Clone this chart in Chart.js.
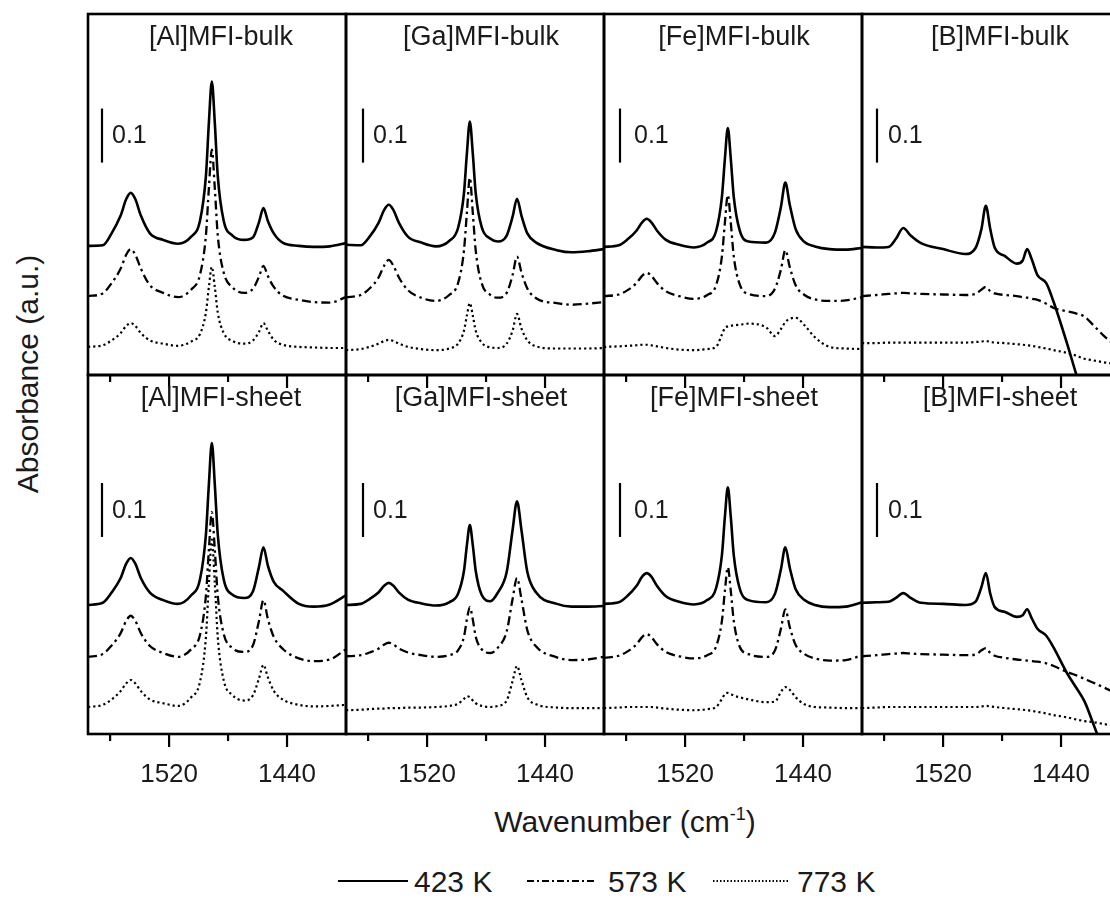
<!DOCTYPE html>
<html>
<head>
<meta charset="utf-8">
<title>Pyridine IR spectra on MFI zeolites</title>
<script src="https://cdn.jsdelivr.net/npm/chart.js@4.4.1/dist/chart.umd.min.js"></script>
<style>
  html, body { margin: 0; padding: 0; background: #fff; }
  body {
    width: 1110px; height: 898px; overflow: hidden; position: relative;
    font-family: "Liberation Sans", Arial, sans-serif; color: #1a1a1a;
  }
  canvas.panel { position: absolute; }
  .label { position: absolute; white-space: nowrap; transform: translate(-50%, -50%); font-size: 30px; }
  #ylabel { left: 28px; top: 374px; transform: translate(-50%, -50%) rotate(-90deg); }
  #xlabel { left: 625px; top: 822px; }
  #xlabel sup { font-size: 18px; line-height: 0; vertical-align: 12px; }
  #legend { position: absolute; left: 0; top: 850px; }
</style>
</head>
<body>
<div id="ylabel" class="label">Absorbance (a.u.)</div>
<div id="xlabel" class="label">Wavenumber (cm<sup>-1</sup>)</div>
<svg id="legend" width="1110" height="48" font-family="Liberation Sans, Arial, sans-serif" font-size="30" fill="#1a1a1a">
  <line x1="338" y1="31" x2="408" y2="31" stroke="#000" stroke-width="2.2"/>
  <text x="414" y="42">423 K</text>
  <line x1="527" y1="31" x2="597" y2="31" stroke="#000" stroke-width="2" stroke-dasharray="7 3 2 3"/>
  <text x="608" y="42">573 K</text>
  <line x1="713" y1="31" x2="788" y2="31" stroke="#000" stroke-width="1.8" stroke-dasharray="1.5 2"/>
  <text x="797" y="42">773 K</text>
</svg>
<script>
// wavenumber grids (cm-1), dense around the 1546 / 1491 / ~1455 bands
const waveShared = [1575, 1565, 1559, 1553, 1549, 1546, 1543, 1539, 1533, 1524,
                    1514, 1505, 1499, 1495, 1493, 1491, 1489, 1487, 1483, 1477];
const bandAl = [1469, 1463, 1459, 1456, 1453, 1449, 1443];
const bandGa = [1472, 1466, 1462, 1459, 1456, 1452, 1446];
const bandFe = [1465, 1459, 1455, 1452, 1449, 1445, 1439];
const waveTail = [1432, 1422, 1411, 1400];
const waveB = [1575, 1565, 1557, 1552, 1547, 1542, 1535, 1520, 1505, 1498,
               1494, 1491, 1488, 1485, 1478, 1470, 1466, 1463, 1460, 1456,
               1450, 1445, 1436, 1430, 1424, 1418, 1410, 1400];

const temps = ['423 K', '573 K', '773 K'];
const tickLabels = [1520, 1440];
const minorTicks = [1560, 1480];

// absorbance, curves offset for clarity
const alBulk423 = [0.239, 0.240, 0.262, 0.294, 0.326, 0.337, 0.326, 0.294, 0.262, 0.250,
                   0.243, 0.256, 0.286, 0.369, 0.467, 0.543, 0.467, 0.369, 0.286, 0.258,
                   0.250, 0.255, 0.283, 0.309, 0.285, 0.262, 0.245, 0.239, 0.237, 0.238, 0.244];
const alBulk573 = [0.146, 0.151, 0.170, 0.196, 0.223, 0.233, 0.223, 0.196, 0.166, 0.152,
                   0.144, 0.158, 0.186, 0.259, 0.346, 0.417, 0.346, 0.259, 0.190, 0.162,
                   0.152, 0.160, 0.182, 0.202, 0.183, 0.163, 0.147, 0.139, 0.135, 0.134, 0.144];
const alBulk773 = [0.052, 0.055, 0.064, 0.077, 0.091, 0.096, 0.091, 0.077, 0.064, 0.058,
                   0.054, 0.062, 0.076, 0.116, 0.163, 0.200, 0.163, 0.116, 0.078, 0.063,
                   0.058, 0.064, 0.080, 0.096, 0.082, 0.065, 0.056, 0.052, 0.051, 0.050, 0.050];

const gaBulk423 = [0.241, 0.240, 0.256, 0.281, 0.306, 0.315, 0.306, 0.281, 0.256, 0.245,
                   0.238, 0.248, 0.272, 0.336, 0.410, 0.469, 0.410, 0.336, 0.274, 0.252,
                   0.247, 0.258, 0.293, 0.326, 0.295, 0.262, 0.245, 0.231, 0.227, 0.229, 0.233];
const gaBulk573 = [0.144, 0.148, 0.160, 0.180, 0.203, 0.213, 0.203, 0.180, 0.157, 0.143,
                   0.137, 0.148, 0.170, 0.230, 0.300, 0.365, 0.300, 0.230, 0.170, 0.148,
                   0.143, 0.152, 0.185, 0.219, 0.190, 0.160, 0.142, 0.133, 0.130, 0.132, 0.135];
const gaBulk773 = [0.046, 0.048, 0.052, 0.058, 0.063, 0.065, 0.063, 0.058, 0.052, 0.048,
                   0.046, 0.049, 0.058, 0.082, 0.110, 0.133, 0.110, 0.082, 0.060, 0.051,
                   0.050, 0.058, 0.082, 0.113, 0.086, 0.064, 0.053, 0.049, 0.049, 0.049, 0.050];

const feBulk423 = [0.237, 0.240, 0.251, 0.267, 0.283, 0.289, 0.283, 0.267, 0.250, 0.241,
                   0.236, 0.245, 0.266, 0.330, 0.400, 0.457, 0.400, 0.330, 0.268, 0.247,
                   0.245, 0.264, 0.311, 0.356, 0.315, 0.270, 0.246, 0.238, 0.233, 0.232, 0.235];
const feBulk573 = [0.146, 0.149, 0.157, 0.170, 0.184, 0.189, 0.184, 0.170, 0.155, 0.146,
                   0.141, 0.148, 0.166, 0.220, 0.282, 0.333, 0.282, 0.220, 0.168, 0.150,
                   0.146, 0.160, 0.195, 0.231, 0.200, 0.166, 0.148, 0.140, 0.137, 0.138, 0.144];
const feBulk773 = [0.052, 0.053, 0.054, 0.055, 0.056, 0.056, 0.055, 0.053, 0.050, 0.047,
                   0.046, 0.048, 0.052, 0.075, 0.087, 0.090, 0.091, 0.092, 0.093, 0.095,
                   0.088, 0.072, 0.085, 0.098, 0.104, 0.106, 0.092, 0.070, 0.052, 0.049, 0.048];

const bBulk423 = [0.237, 0.236, 0.237, 0.252, 0.272, 0.258, 0.244, 0.233, 0.224, 0.235,
                  0.270, 0.313, 0.270, 0.236, 0.220, 0.206, 0.212, 0.233, 0.215, 0.185,
                  0.170, 0.135, 0.059, 0.004, -0.050];
const bBulk573 = [0.146, 0.148, 0.150, 0.151, 0.152, 0.151, 0.150, 0.149, 0.148, 0.150,
                  0.158, 0.163, 0.155, 0.151, 0.148, 0.146, 0.144, 0.143, 0.141, 0.139,
                  0.132, 0.124, 0.118, 0.114, 0.108, 0.092, 0.070, 0.048];
const bBulk773 = [0.059, 0.059, 0.060, 0.060, 0.060, 0.060, 0.060, 0.060, 0.060, 0.061,
                  0.062, 0.063, 0.061, 0.060, 0.059, 0.057, 0.056, 0.055, 0.054, 0.052,
                  0.049, 0.046, 0.041, 0.036, 0.030, 0.027, 0.023, 0.020];

const alSheet423 = [0.239, 0.243, 0.262, 0.288, 0.316, 0.326, 0.316, 0.288, 0.262, 0.248,
                    0.241, 0.257, 0.287, 0.370, 0.463, 0.539, 0.463, 0.370, 0.287, 0.258,
                    0.252, 0.265, 0.310, 0.346, 0.312, 0.282, 0.266, 0.241, 0.236, 0.240, 0.257];
const alSheet573 = [0.143, 0.148, 0.164, 0.186, 0.210, 0.219, 0.210, 0.186, 0.163, 0.150,
                    0.143, 0.157, 0.184, 0.257, 0.342, 0.411, 0.342, 0.257, 0.186, 0.159,
                    0.152, 0.165, 0.210, 0.248, 0.213, 0.180, 0.158, 0.140, 0.135, 0.138, 0.157];
const alSheet773 = [0.050, 0.054, 0.064, 0.079, 0.094, 0.100, 0.094, 0.079, 0.064, 0.057,
                    0.052, 0.068, 0.097, 0.180, 0.280, 0.360, 0.280, 0.180, 0.100, 0.072,
                    0.062, 0.072, 0.103, 0.128, 0.105, 0.080, 0.064, 0.054, 0.051, 0.052, 0.054];

const gaSheet423 = [0.239, 0.241, 0.250, 0.262, 0.275, 0.280, 0.275, 0.262, 0.249, 0.242,
                    0.238, 0.244, 0.260, 0.302, 0.350, 0.387, 0.350, 0.302, 0.258, 0.246,
                    0.262, 0.300, 0.378, 0.431, 0.378, 0.300, 0.262, 0.241, 0.236, 0.236, 0.237];
const gaSheet573 = [0.144, 0.146, 0.151, 0.158, 0.166, 0.169, 0.166, 0.158, 0.151, 0.146,
                    0.143, 0.146, 0.155, 0.180, 0.212, 0.235, 0.212, 0.180, 0.157, 0.150,
                    0.160, 0.190, 0.250, 0.289, 0.250, 0.192, 0.162, 0.142, 0.137, 0.138, 0.143];
const gaSheet773 = [0.044, 0.045, 0.046, 0.047, 0.047, 0.048, 0.048, 0.048, 0.049, 0.049,
                    0.050, 0.052, 0.056, 0.065, 0.070, 0.068, 0.062, 0.057, 0.052, 0.050,
                    0.052, 0.062, 0.098, 0.126, 0.100, 0.068, 0.055, 0.049, 0.048, 0.048, 0.048];

const feSheet423 = [0.241, 0.244, 0.256, 0.274, 0.292, 0.298, 0.292, 0.274, 0.255, 0.245,
                    0.240, 0.248, 0.270, 0.332, 0.402, 0.457, 0.402, 0.332, 0.270, 0.248,
                    0.244, 0.260, 0.305, 0.346, 0.308, 0.268, 0.248, 0.239, 0.235, 0.236, 0.244];
const feSheet573 = [0.141, 0.145, 0.153, 0.166, 0.180, 0.185, 0.180, 0.166, 0.152, 0.144,
                    0.140, 0.146, 0.162, 0.210, 0.265, 0.309, 0.265, 0.210, 0.162, 0.148,
                    0.143, 0.155, 0.195, 0.231, 0.198, 0.165, 0.148, 0.140, 0.136, 0.137, 0.146];
const feSheet773 = [0.048, 0.049, 0.050, 0.050, 0.050, 0.050, 0.050, 0.049, 0.047, 0.045,
                    0.044, 0.046, 0.050, 0.065, 0.074, 0.076, 0.074, 0.071, 0.068, 0.064,
                    0.059, 0.060, 0.078, 0.087, 0.082, 0.068, 0.055, 0.050, 0.049, 0.048, 0.048];

const bSheet423 = [0.243, 0.244, 0.245, 0.252, 0.261, 0.252, 0.243, 0.241, 0.239, 0.245,
                   0.272, 0.298, 0.260, 0.235, 0.226, 0.217, 0.220, 0.231, 0.215, 0.195,
                   0.182, 0.160, 0.113, 0.087, 0.060, 0.018, -0.040];
const bSheet573 = [0.144, 0.146, 0.148, 0.149, 0.150, 0.149, 0.148, 0.147, 0.146, 0.147,
                   0.155, 0.159, 0.150, 0.145, 0.141, 0.138, 0.137, 0.136, 0.135, 0.134,
                   0.131, 0.126, 0.115, 0.109, 0.102, 0.095, 0.085, 0.072];
const bSheet773 = [0.048, 0.049, 0.050, 0.050, 0.050, 0.050, 0.050, 0.050, 0.050, 0.050,
                   0.051, 0.052, 0.051, 0.050, 0.048, 0.046, 0.045, 0.044, 0.043, 0.041,
                   0.038, 0.035, 0.031, 0.027, 0.024, 0.022, 0.018, 0.014];

const waveAl = [...waveShared, ...bandAl, ...waveTail];
const waveGa = [...waveShared, ...bandGa, ...waveTail];
const waveFe = [...waveShared, ...bandFe, ...waveTail];

const panels = [
  { title: '[Al]MFI-bulk',  row: 0, col: 0, wave: waveAl, series: [alBulk423, alBulk573, alBulk773] },
  { title: '[Ga]MFI-bulk',  row: 0, col: 1, wave: waveGa, series: [gaBulk423, gaBulk573, gaBulk773] },
  { title: '[Fe]MFI-bulk',  row: 0, col: 2, wave: waveFe, series: [feBulk423, feBulk573, feBulk773] },
  { title: '[B]MFI-bulk',   row: 0, col: 3, wave: waveB,  series: [bBulk423, bBulk573, bBulk773] },
  { title: '[Al]MFI-sheet', row: 1, col: 0, wave: waveAl, series: [alSheet423, alSheet573, alSheet773] },
  { title: '[Ga]MFI-sheet', row: 1, col: 1, wave: waveGa, series: [gaSheet423, gaSheet573, gaSheet773] },
  { title: '[Fe]MFI-sheet', row: 1, col: 2, wave: waveFe, series: [feSheet423, feSheet573, feSheet773] },
  { title: '[B]MFI-sheet',  row: 1, col: 3, wave: waveB,  series: [bSheet423, bSheet573, bSheet773] },
];

// layout
const colLeft = [88, 346, 604, 862];
const rowTop = [14, 375];
const rowHeight = [361, 359];
const rowMax = [0.668, 0.665];
const barBase = [0.393, 0.365];
const titleOffset = [133, 135, 130, 138];
const barOffset = [14, 17, 16, 15];
const barTextOffset = [24, 27, 30, 26];
const panelWidth = 258;
const pad = 4;
const axisBand = 70;
const FONT = '"Liberation Sans", Arial, sans-serif';

const lineStyles = [
  { borderWidth: 2.6, borderDash: [] },
  { borderWidth: 2.3, borderDash: [9, 4, 2.5, 4] },
  { borderWidth: 2.2, borderDash: [2.2, 3] },
];

// frame, outward ticks, 0.1 scale bar and panel title
const panelFrame = {
  id: 'panelFrame',
  afterDatasetsDraw(chart, args, opts) {
    const { ctx, chartArea: a } = chart;
    const x = chart.scales.x, y = chart.scales.y;
    ctx.save();
    ctx.strokeStyle = '#000';
    ctx.lineWidth = 2.6;
    ctx.strokeRect(a.left, a.top, a.right - a.left, a.bottom - a.top);

    ctx.lineWidth = 2.2;
    ctx.beginPath();
    tickLabels.forEach(v => {
      const px = x.getPixelForValue(v);
      ctx.moveTo(px, a.bottom); ctx.lineTo(px, a.bottom + 13);
    });
    minorTicks.forEach(v => {
      const px = x.getPixelForValue(v);
      ctx.moveTo(px, a.bottom); ctx.lineTo(px, a.bottom + 7);
    });
    ctx.stroke();

    const bx = a.left + opts.barOffset;
    const y0 = y.getPixelForValue(opts.barBase);
    const y1 = y.getPixelForValue(opts.barBase + 0.1);
    ctx.beginPath();
    ctx.moveTo(bx, y0); ctx.lineTo(bx, y1);
    ctx.stroke();

    ctx.fillStyle = '#1a1a1a';
    ctx.textBaseline = 'middle';
    ctx.textAlign = 'left';
    ctx.font = '25px ' + FONT;
    ctx.fillText('0.1', a.left + opts.barTextOffset, (y0 + y1) / 2 + 1);

    ctx.textAlign = 'center';
    ctx.font = '27px ' + FONT;
    ctx.fillText(opts.title, a.left + opts.titleOffset, a.top + 24);
    ctx.restore();
  }
};

panels.forEach(p => {
  const canvas = document.createElement('canvas');
  canvas.className = 'panel';
  const w = panelWidth + 2 * pad;
  const h = pad + rowHeight[p.row] + axisBand;
  canvas.width = w; canvas.height = h;
  canvas.style.width = w + 'px'; canvas.style.height = h + 'px';
  canvas.style.left = (colLeft[p.col] - pad) + 'px';
  canvas.style.top = (rowTop[p.row] - pad) + 'px';
  document.body.appendChild(canvas);

  const datasets = p.series.map((vals, i) => ({
    label: temps[i],
    data: vals.map((v, k) => ({ x: p.wave[k], y: v })),
    borderColor: '#000',
    borderWidth: lineStyles[i].borderWidth,
    borderDash: lineStyles[i].borderDash,
    borderCapStyle: 'butt',
    pointRadius: 0,
    fill: false,
    cubicInterpolationMode: 'monotone'
  }));

  new Chart(canvas, {
    type: 'line',
    data: { datasets },
    options: {
      responsive: false,
      animation: false,
      events: [],
      layout: { padding: { left: pad, right: pad, top: pad, bottom: 0 } },
      plugins: {
        legend: { display: false },
        tooltip: { enabled: false },
        panelFrame: {
          title: p.title,
          titleOffset: titleOffset[p.col],
          barOffset: barOffset[p.col],
          barTextOffset: barTextOffset[p.col],
          barBase: barBase[p.row]
        }
      },
      scales: {
        x: {
          type: 'linear',
          min: 1400, max: 1575,
          reverse: true,
          grid: { display: false },
          border: { display: false },
          afterBuildTicks: s => { s.ticks = tickLabels.map(v => ({ value: v })); },
          afterFit: s => { s.height = axisBand; },
          ticks: {
            display: p.row === 1,
            autoSkip: false,
            maxRotation: 0,
            padding: 17,
            color: '#1a1a1a',
            font: { family: FONT, size: 26 },
            callback: v => String(v)
          }
        },
        y: { display: false, min: 0, max: rowMax[p.row] }
      }
    },
    plugins: [panelFrame]
  });
});
</script>
</body>
</html>
